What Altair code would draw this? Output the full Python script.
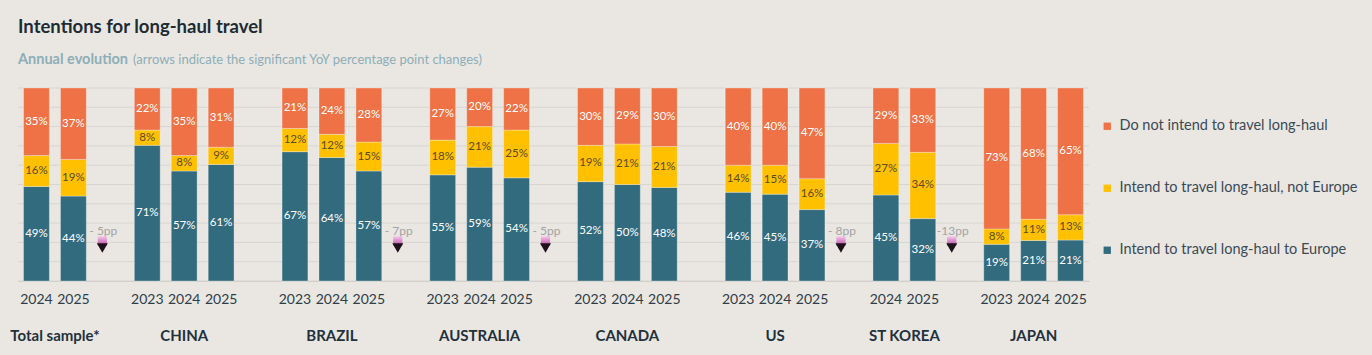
import altair as alt
import pandas as pd

# ---------------- data ----------------
groups = ["Total sample*", "CHINA", "BRAZIL", "AUSTRALIA", "CANADA", "US", "ST KOREA", "JAPAN"]
years = [["2024", "2025"], ["2023", "2024", "2025"], ["2023", "2024", "2025"],
         ["2023", "2024", "2025"], ["2023", "2024", "2025"], ["2023", "2024", "2025"],
         ["2024", "2025"], ["2023", "2024", "2025"]]
to_europe = [[49, 44], [71, 57, 61], [67, 64, 57], [55, 59, 54], [52, 50, 48], [46, 45, 37], [45, 32], [19, 21, 21]]
not_europe = [[16, 19], [8, 8, 9], [12, 12, 15], [18, 21, 25], [19, 21, 21], [14, 15, 16], [27, 34], [8, 11, 13]]
no_travel = [[35, 37], [22, 35, 31], [21, 24, 28], [27, 20, 22], [30, 29, 30], [40, 40, 47], [29, 33], [73, 68, 65]]
change_groups = ["Total sample*", "BRAZIL", "AUSTRALIA", "US", "ST KOREA"]
change_labels = ["- 5pp", "- 7pp", "- 5pp", "- 8pp", "-13pp"]
grid_values = [0, 10, 20, 30, 40, 50, 60, 70, 80, 90, 100]

S_NO = "Do not intend to travel long-haul"
S_NE = "Intend to travel long-haul, not Europe"
S_EU = "Intend to travel long-haul to Europe"
series_names = [S_NO, S_NE, S_EU]
series_colors = ["#EE7245", "#FFC000", "#336B7E"]

TITLE = "Intentions for long-haul travel"
SUB_BOLD = "Annual evolution"
SUB_REST = "(arrows indicate the significant YoY percentage point changes)"

# ---------------- build tables ----------------
slots = []
rows = []
glabels = []
for gi, g in enumerate(groups):
    for yi, yr in enumerate(years[gi]):
        key = g + "|" + yr
        slots.append(key)
        vals = [(S_EU, to_europe[gi][yi]), (S_NE, not_europe[gi][yi]), (S_NO, no_travel[gi][yi])]
        tot = sum(v for _, v in vals)
        start = 0.0
        for s, v in vals:
            end = start + v / tot
            rows.append({"slot": key, "series": s, "start": start, "end": end,
                         "mid": (start + end) / 2, "label": f"{v}%"})
            start = end
    n = len(years[gi])
    glabels.append({"group": g, "slot": g + "|" + years[gi][n // 2] if n % 2 == 1 else g + "|" + years[gi][0],
                    "two": n % 2 == 0})
    if gi < len(groups) - 1:
        slots.append("gap|" + g)

bars = pd.DataFrame(rows)
gl = pd.DataFrame(glabels)
ann = pd.DataFrame({"slot": ["gap|" + g for g in change_groups], "text": change_labels})
grid = pd.DataFrame({"v": [v / 100 for v in grid_values]})

FONT = "Lato"
xscale = alt.Scale(domain=slots, paddingInner=0.3, paddingOuter=0.15)
yscale = alt.Scale(domain=[0, 1])

x_axis = alt.Axis(title=None, ticks=False, domain=True, domainColor="#CFCBC7", labelAngle=0,
                  labelFont=FONT, labelFontSize=14, labelColor="#2E3D48", labelPadding=11,
                  labelExpr="slice(datum.value,0,4)=='gap|' ? '' : split(datum.value,'|')[1]")
no_axis = alt.Axis(title=None, labels=False, ticks=False, domain=False, grid=False)

grid_layer = alt.Chart(grid).mark_rule(color="#D8D5D1", strokeWidth=1).encode(
    y=alt.Y("v:Q", scale=yscale, axis=no_axis))

base = alt.Chart(bars)

bar_layer = base.mark_bar(stroke="#ffffff", strokeOpacity=0.3, strokeWidth=1).encode(
    x=alt.X("slot:N", scale=xscale, axis=x_axis, sort=slots),
    y=alt.Y("start:Q", scale=yscale, axis=no_axis),
    y2="end:Q",
    color=alt.Color("series:N", scale=alt.Scale(domain=series_names, range=series_colors),
                    legend=alt.Legend(title=None, orient="none", legendX=1082, legendY=31,
                                      symbolType="square", symbolSize=54, symbolStrokeWidth=0,
                                      labelFont=FONT, labelFontSize=14.5, labelColor="#3B4A55",
                                      labelLimit=0, rowPadding=47, labelOffset=5)),
)

txt_layer = base.mark_text(font=FONT, fontSize=11.5, baseline="middle").encode(
    x=alt.X("slot:N", scale=xscale, sort=slots),
    y=alt.Y("mid:Q", scale=yscale, axis=no_axis),
    text="label:N",
    color=alt.condition(alt.datum.series == S_NE, alt.value("#5A4C28"), alt.value("#ffffff")),
)

g3 = alt.Chart(gl).transform_filter("!datum.two").mark_text(
    font=FONT, fontSize=15, fontWeight="bold", color="#22313B", baseline="middle").encode(
    x=alt.X("slot:N", scale=xscale, sort=slots), y=alt.value(248), text="group:N")
g2 = alt.Chart(gl).transform_filter("datum.two").mark_text(
    font=FONT, fontSize=15, fontWeight="bold", color="#22313B", baseline="middle", dx=18.5).encode(
    x=alt.X("slot:N", scale=xscale, sort=slots), y=alt.value(248), text="group:N")

grad = alt.LinearGradient(gradient="linear", x1=0, x2=0, y1=0, y2=1,
                          stops=[alt.GradientStop(color="#F5C4EA", offset=0),
                                 alt.GradientStop(color="#B84FA6", offset=1)])
ann_text = alt.Chart(ann).mark_text(font=FONT, fontSize=12, color="#A3A3A3", baseline="middle", dx=-7).encode(
    x=alt.X("slot:N", scale=xscale, sort=slots), y=alt.value(143), text="text:N")
ann_sq = alt.Chart(ann).mark_point(shape="square", filled=True, size=85, fill=grad, opacity=1, xOffset=-8).encode(
    x=alt.X("slot:N", scale=xscale, sort=slots), y=alt.value(153))
ann_tri = alt.Chart(ann).mark_point(shape="triangle-down", filled=True, size=120, color="#1E1119", opacity=1,
                                    xOffset=-8).encode(
    x=alt.X("slot:N", scale=xscale, sort=slots), y=alt.value(160))

t1 = alt.Chart(pd.DataFrame({"t": [TITLE]})).mark_text(
    font=FONT, fontSize=18.5, fontWeight="bold", color="#1D2B33", align="left", baseline="alphabetic").encode(
    x=alt.value(0), y=alt.value(-55), text="t:N")
t2 = alt.Chart(pd.DataFrame({"t": [SUB_BOLD]})).mark_text(
    font=FONT, fontSize=14.5, fontWeight="bold", color="#8DAEB6", align="left", baseline="alphabetic").encode(
    x=alt.value(0), y=alt.value(-24), text="t:N")
t3 = alt.Chart(pd.DataFrame({"t": [SUB_REST]})).mark_text(
    font=FONT, fontSize=13, color="#8DAEB6", align="left", baseline="alphabetic").encode(
    x=alt.value(115), y=alt.value(-24), text="t:N")

chart = alt.layer(grid_layer, bar_layer, txt_layer, g3, g2, ann_text, ann_sq, ann_tri, t1, t2, t3).properties(
    width=1071, height=193,
    padding={"left": 18, "top": 88, "right": 283, "bottom": 74},
    autosize=alt.AutoSizeParams(type="none"),
    background="#EAE7E3",
).configure_view(stroke=None)

chart.save("out.html", embed_options={"renderer": "svg", "actions": False})
